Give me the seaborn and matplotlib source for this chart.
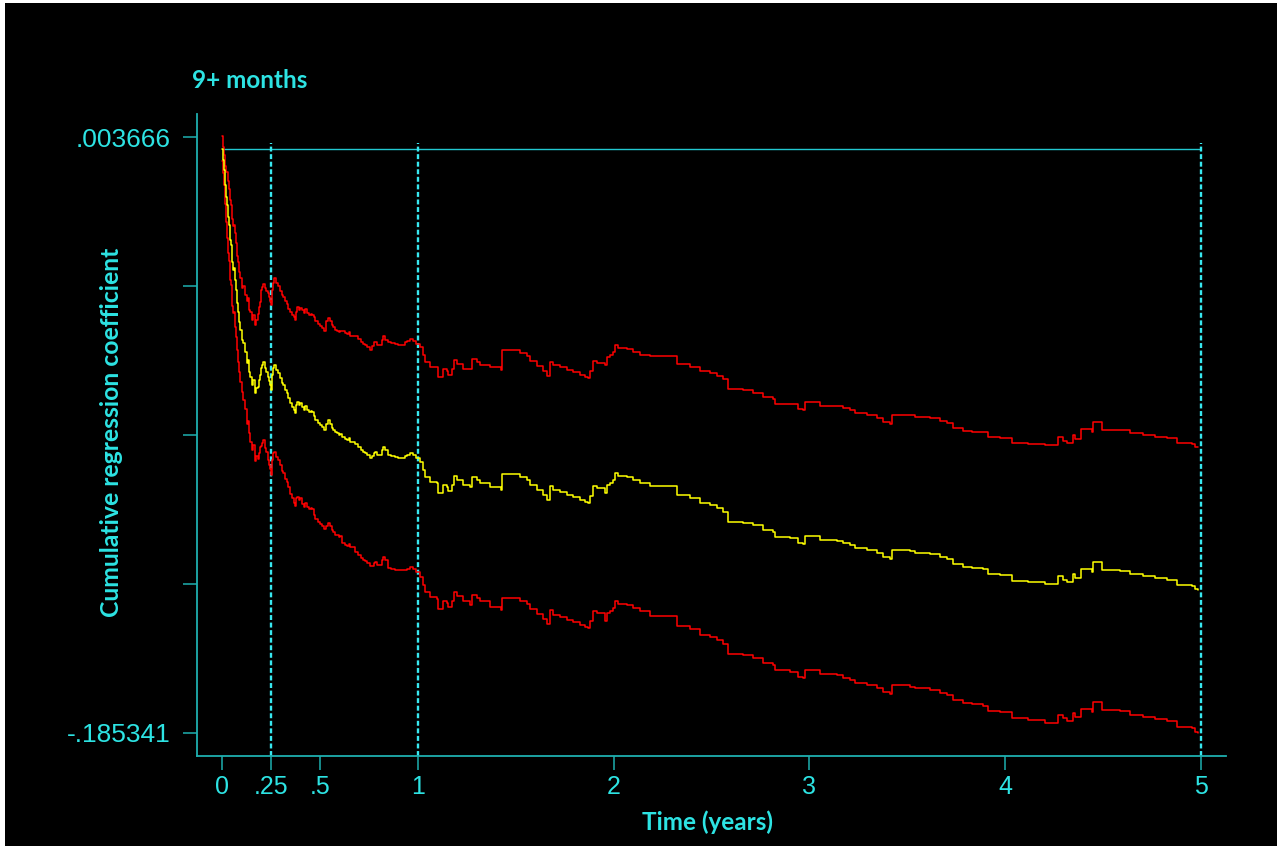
import numpy as np
import pandas as pd
import matplotlib
matplotlib.use("Agg")
import matplotlib.pyplot as plt
from matplotlib.patches import Rectangle
import seaborn as sns

# step knots: time (years), cumulative coefficient, CI half-width
time_years = [
    0.0000, 0.0051, 0.0102, 0.0153, 0.0204, 0.0255, 0.0306, 0.0358, 0.0409, 0.0460,
    0.0511, 0.0562, 0.0613, 0.0664, 0.0715, 0.0766, 0.0817, 0.0868, 0.0919, 0.1021,
    0.1073, 0.1175, 0.1277, 0.1328, 0.1379, 0.1430, 0.1532, 0.1583, 0.1685, 0.1736,
    0.1839, 0.1890, 0.1941, 0.1992, 0.2043, 0.2094, 0.2196, 0.2247, 0.2349, 0.2400,
    0.2451, 0.2503, 0.2554, 0.2605, 0.2656, 0.2758, 0.2860, 0.2962, 0.3064, 0.3115,
    0.3218, 0.3320, 0.3371, 0.3473, 0.3575, 0.3677, 0.3728, 0.3779, 0.3830, 0.3933,
    0.3984, 0.4086, 0.4188, 0.4239, 0.4341, 0.4443, 0.4545, 0.4597, 0.4699, 0.4750,
    0.4903, 0.5005, 0.5107, 0.5209, 0.5312, 0.5414, 0.5516, 0.5618, 0.5669, 0.5771,
    0.5873, 0.5976, 0.6027, 0.6129, 0.6282, 0.6384, 0.6486, 0.6537, 0.6793, 0.6946,
    0.7099, 0.7201, 0.7303, 0.7406, 0.7559, 0.7661, 0.7763, 0.7814, 0.7916, 0.8172,
    0.8223, 0.8325, 0.8478, 0.8631, 0.8836, 0.8989, 0.9346, 0.9448, 0.9602, 0.9755,
    0.9908, 1.0112, 1.0266, 1.0368, 1.0623, 1.0981, 1.1032, 1.1287, 1.1491, 1.1542,
    1.1747, 1.1849, 1.2002, 1.2308, 1.2666, 1.2768, 1.3023, 1.3177, 1.3687, 1.4249,
    1.4300, 1.5220, 1.5577, 1.5730, 1.6088, 1.6394, 1.6599, 1.6752, 1.6905, 1.7263,
    1.7620, 1.7926, 1.8284, 1.8539, 1.8693, 1.8795, 1.8948, 1.9152, 1.9561, 1.9663,
    1.9816, 1.9969, 2.0072, 2.0225, 2.0684, 2.0991, 2.1348, 2.1859, 2.3238, 2.3902,
    2.4413, 2.4923, 2.5281, 2.5587, 2.5843, 2.6609, 2.7120, 2.7630, 2.8141, 2.8243,
    2.9009, 2.9418, 2.9673, 2.9775, 3.0541, 3.1409, 3.1716, 3.2074, 3.2329, 3.2942,
    3.3453, 3.3759, 3.4116, 3.4219, 3.5138, 3.5393, 3.6159, 3.6670, 3.7028, 3.7334,
    3.7845, 3.8304, 3.8866, 3.9122, 3.9734, 4.0347, 4.1164, 4.2033, 4.2697, 4.2952,
    4.3156, 4.3463, 4.3565, 4.3871, 4.4433, 4.4484, 4.4944, 4.5863, 4.6374, 4.7038,
    4.7651, 4.8264, 4.8774, 4.9540, 4.9693, 4.9847,
]
estimate = [
    0.0000, -0.0036, -0.0068, -0.0115, -0.0154, -0.0179, -0.0217, -0.0242, -0.0290, -0.0306,
    -0.0360, -0.0385, -0.0379, -0.0417, -0.0448, -0.0490, -0.0518, -0.0550, -0.0575, -0.0607,
    -0.0616, -0.0645, -0.0680, -0.0670, -0.0708, -0.0724, -0.0750, -0.0734, -0.0775, -0.0759,
    -0.0756, -0.0734, -0.0718, -0.0696, -0.0686, -0.0677, -0.0696, -0.0708, -0.0724, -0.0737,
    -0.0750, -0.0766, -0.0718, -0.0696, -0.0686, -0.0702, -0.0712, -0.0727, -0.0743, -0.0750,
    -0.0766, -0.0775, -0.0791, -0.0807, -0.0819, -0.0829, -0.0838, -0.0813, -0.0804, -0.0813,
    -0.0807, -0.0819, -0.0829, -0.0816, -0.0829, -0.0835, -0.0832, -0.0835, -0.0848, -0.0861,
    -0.0870, -0.0877, -0.0883, -0.0892, -0.0873, -0.0861, -0.0873, -0.0886, -0.0892, -0.0899,
    -0.0902, -0.0908, -0.0905, -0.0915, -0.0921, -0.0924, -0.0918, -0.0930, -0.0937, -0.0946,
    -0.0956, -0.0962, -0.0965, -0.0972, -0.0981, -0.0975, -0.0965, -0.0962, -0.0972, -0.0956,
    -0.0946, -0.0956, -0.0972, -0.0975, -0.0978, -0.0981, -0.0975, -0.0972, -0.0965, -0.0972,
    -0.0981, -0.0994, -0.1019, -0.1041, -0.1057, -0.1060, -0.1092, -0.1067, -0.1073, -0.1086,
    -0.1067, -0.1038, -0.1051, -0.1067, -0.1073, -0.1041, -0.1051, -0.1060, -0.1073, -0.1083,
    -0.1032, -0.1041, -0.1051, -0.1067, -0.1083, -0.1098, -0.1114, -0.1070, -0.1083, -0.1089,
    -0.1098, -0.1105, -0.1114, -0.1121, -0.1124, -0.1102, -0.1070, -0.1076, -0.1092, -0.1067,
    -0.1060, -0.1051, -0.1029, -0.1038, -0.1041, -0.1051, -0.1060, -0.1070, -0.1098, -0.1108,
    -0.1124, -0.1130, -0.1140, -0.1152, -0.1184, -0.1187, -0.1194, -0.1209, -0.1216, -0.1232,
    -0.1235, -0.1251, -0.1254, -0.1229, -0.1241, -0.1244, -0.1251, -0.1257, -0.1267, -0.1273,
    -0.1282, -0.1295, -0.1301, -0.1273, -0.1276, -0.1282, -0.1286, -0.1295, -0.1301, -0.1317,
    -0.1327, -0.1330, -0.1333, -0.1349, -0.1352, -0.1371, -0.1374, -0.1381, -0.1355, -0.1367,
    -0.1374, -0.1349, -0.1362, -0.1333, -0.1343, -0.1311, -0.1336, -0.1339, -0.1349, -0.1355,
    -0.1362, -0.1367, -0.1384, -0.1387, -0.1397, -0.1400,
]
half_width = [
    0.0040, 0.0040, 0.0048, 0.0060, 0.0080, 0.0105, 0.0115, 0.0115, 0.0127, 0.0127,
    0.0138, 0.0138, 0.0138, 0.0149, 0.0149, 0.0149, 0.0158, 0.0158, 0.0165, 0.0165,
    0.0180, 0.0180, 0.0195, 0.0195, 0.0195, 0.0205, 0.0205, 0.0205, 0.0216, 0.0216,
    0.0230, 0.0230, 0.0230, 0.0247, 0.0247, 0.0247, 0.0255, 0.0255, 0.0265, 0.0265,
    0.0265, 0.0270, 0.0270, 0.0270, 0.0275, 0.0275, 0.0275, 0.0275, 0.0280, 0.0280,
    0.0283, 0.0283, 0.0283, 0.0290, 0.0290, 0.0295, 0.0295, 0.0295, 0.0300, 0.0300,
    0.0300, 0.0307, 0.0307, 0.0307, 0.0307, 0.0307, 0.0307, 0.0307, 0.0315, 0.0315,
    0.0315, 0.0315, 0.0315, 0.0315, 0.0325, 0.0325, 0.0325, 0.0325, 0.0325, 0.0325,
    0.0325, 0.0325, 0.0325, 0.0335, 0.0335, 0.0335, 0.0335, 0.0335, 0.0343, 0.0343,
    0.0343, 0.0343, 0.0343, 0.0343, 0.0343, 0.0350, 0.0350, 0.0350, 0.0350, 0.0350,
    0.0350, 0.0350, 0.0357, 0.0357, 0.0357, 0.0357, 0.0362, 0.0362, 0.0362, 0.0362,
    0.0362, 0.0365, 0.0365, 0.0365, 0.0365, 0.0368, 0.0368, 0.0368, 0.0368, 0.0368,
    0.0368, 0.0368, 0.0368, 0.0368, 0.0375, 0.0375, 0.0375, 0.0375, 0.0380, 0.0380,
    0.0393, 0.0393, 0.0393, 0.0393, 0.0393, 0.0393, 0.0393, 0.0393, 0.0397, 0.0397,
    0.0397, 0.0397, 0.0397, 0.0397, 0.0397, 0.0397, 0.0397, 0.0397, 0.0405, 0.0405,
    0.0405, 0.0405, 0.0405, 0.0405, 0.0405, 0.0405, 0.0405, 0.0412, 0.0415, 0.0415,
    0.0418, 0.0418, 0.0420, 0.0420, 0.0420, 0.0420, 0.0420, 0.0422, 0.0422, 0.0422,
    0.0425, 0.0425, 0.0425, 0.0425, 0.0425, 0.0427, 0.0427, 0.0427, 0.0427, 0.0428,
    0.0428, 0.0428, 0.0428, 0.0428, 0.0430, 0.0430, 0.0430, 0.0432, 0.0432, 0.0432,
    0.0432, 0.0432, 0.0434, 0.0434, 0.0434, 0.0436, 0.0438, 0.0440, 0.0440, 0.0440,
    0.0440, 0.0442, 0.0442, 0.0443, 0.0443, 0.0444, 0.0444, 0.0445, 0.0446, 0.0447,
    0.0448, 0.0449, 0.0450, 0.0451, 0.0452, 0.0453,
]

y_tick_top = 0.003666
y_tick_bottom = -0.185341
x_ticks = [0, 0.25, 0.5, 1, 2, 3, 4, 5]
x_tick_labels = ["0", ".25", ".5", "1", "2", "3", "4", "5"]
ref_times = [0.25, 1, 5]

df = pd.DataFrame({"time": time_years, "estimate": estimate, "hw": half_width})
df["lower"] = df["estimate"] - df["hw"]
df["upper"] = df["estimate"] + df["hw"]
long_df = df.melt(id_vars="time", value_vars=["lower", "upper", "estimate"],
                  var_name="curve", value_name="coef")

sns.set_theme(style="dark")
plt.rcParams["font.family"] = ["Liberation Sans", "DejaVu Sans"]

spine_col = "#1eb0b0"
text_col = "#2de3e3"
line_col = "#38e8f0"

fig = plt.figure(figsize=(12.77, 8.46), dpi=100, facecolor="white")
fig.patches.append(Rectangle((5 / 1277, 0), 1, 1 - 3 / 846, transform=fig.transFigure,
                             facecolor="black", edgecolor="none", zorder=-10))
ax = fig.add_axes([197 / 1277, 1 - 756 / 846, 1029 / 1277, 642 / 846])
ax.set_facecolor("black")

sns.lineplot(data=long_df, x="time", y="coef", hue="curve", units="curve",
             estimator=None, palette={"lower": "#ff0000", "upper": "#ff0000", "estimate": "#ffff00"},
             drawstyle="steps-post", linewidth=1.1, legend=False, ax=ax)

pad_y = 23 / 3153.3
ax.set_ylim(y_tick_bottom - pad_y, y_tick_top + pad_y)
ax.set_xlim(-0.128, 5.128)

ax.hlines(0, 0, 5, color="#22c8d0", linewidth=1.0, zorder=1)
ax.vlines(ref_times, y_tick_bottom - pad_y, 0.0018, colors=line_col, linewidth=1.7,
          linestyles=(0, (2.1, 1.1)), zorder=1)

ax.set_yticks(np.linspace(y_tick_bottom, y_tick_top, 5))
ax.set_yticklabels(["-.185341", "", "", "", ".003666"])
ax.set_xticks(x_ticks)
ax.set_xticklabels(x_tick_labels)
ax.tick_params(axis="y", direction="out", length=10, width=1.1, color=spine_col,
               labelcolor=text_col, labelsize=19, pad=9, left=True)
ax.tick_params(axis="x", direction="out", length=10, width=1.1, color=spine_col,
               labelcolor=text_col, labelsize=18, pad=4, bottom=True)
ax.grid(False)
for side in ["top", "right"]:
    ax.spines[side].set_visible(False)
for side in ["left", "bottom"]:
    ax.spines[side].set_visible(True)
    ax.spines[side].set_color(spine_col)
    ax.spines[side].set_linewidth(1.3)
ax.set_xlabel("")
ax.set_ylabel("")

lab_font = ["Lato", "DejaVu Sans"]
fig.text(192 / 1277, 1 - 80 / 846, "9+ months", color=text_col, fontsize=17.5,
         fontweight="bold", family=lab_font, ha="left", va="center")
fig.text(707 / 1277, 1 - 822 / 846, "Time (years)", color=text_col, fontsize=17.5,
         fontweight="bold", family=lab_font, ha="center", va="center")
fig.text(112 / 1277, 1 - 432 / 846, "Cumulative regression coefficient", color=text_col,
         fontsize=17.8, fontweight="bold", family=lab_font, rotation=90, ha="center", va="center")

fig.savefig("out.png", dpi=100, facecolor=fig.get_facecolor())
